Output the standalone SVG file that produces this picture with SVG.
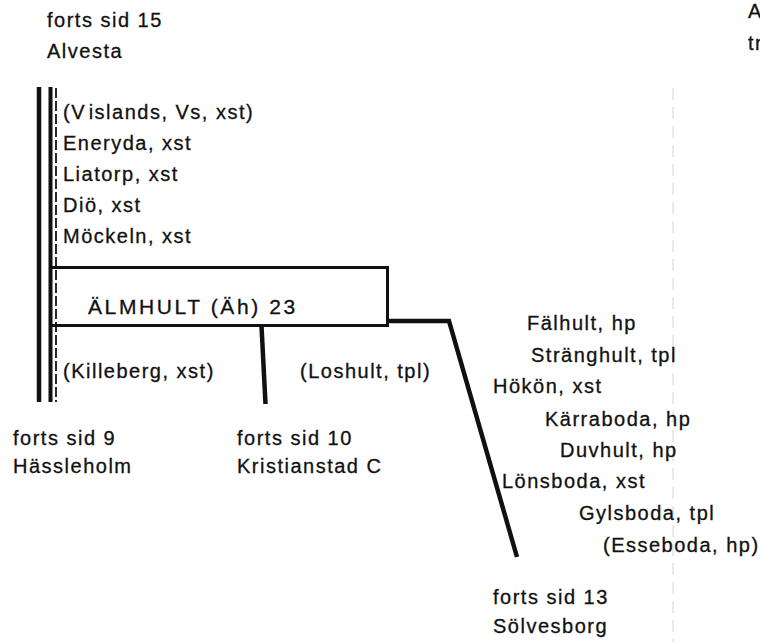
<svg xmlns="http://www.w3.org/2000/svg" width="760" height="642" viewBox="0 0 760 642">
<style>
text{font-family:"Liberation Sans",Arial,sans-serif;font-size:20px;letter-spacing:1.5px;fill:#111;stroke:#111;stroke-width:0.3px}
.big{font-size:21px;letter-spacing:2.6px}
.trk{fill:none;stroke:#111;stroke-linecap:butt;stroke-linejoin:miter}
</style>
<rect width="760" height="642" fill="#fff"/>
<g id="connectors">
<line class="trk" x1="39" y1="87" x2="39" y2="402" stroke-width="4.5"/>
<line class="trk" x1="50.5" y1="87" x2="50.5" y2="402" stroke-width="4"/>
<line class="trk" x1="56" y1="88" x2="56" y2="402" stroke-width="1.8" stroke-dasharray="10 3"/>
<line class="trk" x1="261.5" y1="326" x2="265.5" y2="404" stroke-width="4.5"/>
<polyline class="trk" points="387,321 449,321 517,557" stroke-width="4.5"/>
<line x1="673" y1="88" x2="673" y2="642" stroke="#d4d4d4" stroke-width="1" stroke-dasharray="12 7"/>
</g>
<g id="almhult">
<polyline class="trk" points="50,267.5 387.5,267.5 387.5,325.5 50,325.5" stroke-width="3"/>
<text class="big" x="88" y="314">ÄLMHULT (Äh) 23</text>
</g>
<g id="alvesta">
<text x="47" y="27">forts sid 15</text>
<text x="47" y="58">Alvesta</text>
</g>
<g id="north-stations">
<text x="63" y="119">(V<tspan dx="3">islands, Vs, xst)</tspan></text>
<text x="63" y="150">Eneryda, xst</text>
<text x="63" y="181">Liatorp, xst</text>
<text x="63" y="212">Diö, xst</text>
<text x="63" y="243">Möckeln, xst</text>
</g>
<g id="killeberg"><text x="63" y="378">(Killeberg, xst)</text></g>
<g id="loshult"><text x="300" y="378">(Loshult, tpl)</text></g>
<g id="hassleholm">
<text x="13" y="445">forts sid 9</text>
<text x="13" y="473">Hässleholm</text>
</g>
<g id="kristianstad">
<text x="237" y="445">forts sid 10</text>
<text x="237" y="473">Kristianstad C</text>
</g>
<g id="south-stations">
<text x="527" y="330">Fälhult, hp</text>
<text x="531" y="362">Stränghult, tpl</text>
<text x="493" y="393">Hökön, xst</text>
<text x="545" y="426">Kärraboda, hp</text>
<text x="560" y="457">Duvhult, hp</text>
<text x="502" y="488">Lönsboda, xst</text>
<text x="579" y="520">Gylsboda, tpl</text>
<text x="603" y="552">(Esseboda, hp)</text>
</g>
<g id="solvesborg">
<text x="493" y="604">forts sid 13</text>
<text x="493" y="633">Sölvesborg</text>
</g>
<g id="edge-text">
<text x="748" y="18">A</text>
<text x="748" y="50">tr</text>
</g>
</svg>
